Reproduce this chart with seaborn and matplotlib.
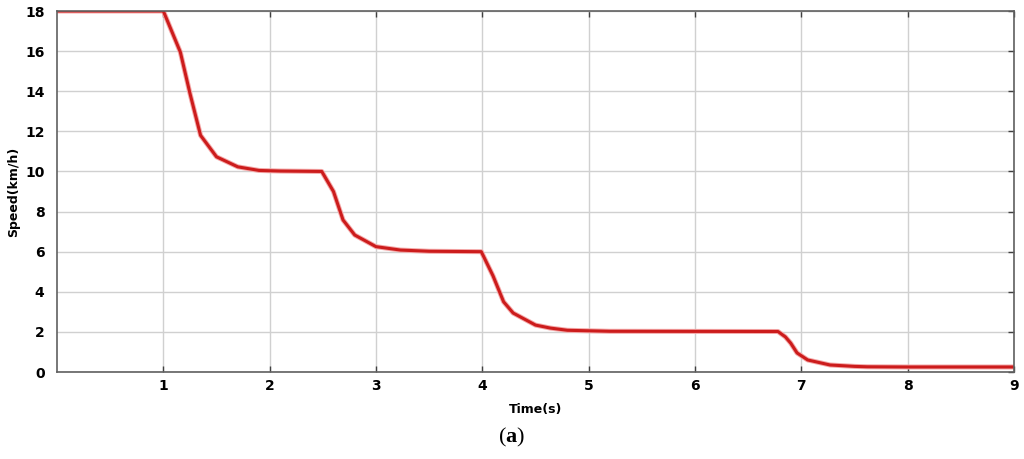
import matplotlib
matplotlib.use("Agg")
import matplotlib.pyplot as plt
import seaborn as sns
import pandas as pd

time_s = [0.0, 1.0, 1.16, 1.25, 1.35, 1.5, 1.7, 1.9, 2.1, 2.49, 2.6, 2.69, 2.8, 3.0, 3.23, 3.5, 3.99,
          4.1, 4.2, 4.29, 4.5, 4.64, 4.8, 5.2, 6.78, 6.85, 6.9, 6.96, 7.06, 7.27, 7.5, 7.62, 8.0, 9.0]
speed_kmh = [18.0, 18.0, 15.95, 13.9, 11.8, 10.73, 10.23, 10.05, 10.02, 10.0, 9.0, 7.58, 6.83, 6.25, 6.08, 6.02, 6.0,
             4.8, 3.5, 2.94, 2.34, 2.19, 2.08, 2.03, 2.02, 1.75, 1.44, 0.95, 0.6, 0.35, 0.28, 0.26, 0.25, 0.25]
x_ticks = [1, 2, 3, 4, 5, 6, 7, 8, 9]
y_ticks = [0, 2, 4, 6, 8, 10, 12, 14, 16, 18]

df = pd.DataFrame({"Time(s)": time_s, "Speed(km/h)": speed_kmh})

sns.set_style("whitegrid")
plt.rcParams["font.family"] = ["DejaVu Sans"]
plt.rcParams["mathtext.fontset"] = "custom"
plt.rcParams["mathtext.rm"] = "Liberation Serif"
plt.rcParams["mathtext.bf"] = "Liberation Serif:bold"

fig = plt.figure(figsize=(10.24, 4.59), dpi=100)
ax = fig.add_axes([57/1024, 1-372/459, (1014-57)/1024, (372-11)/459])

# halo
sns.lineplot(data=df, x="Time(s)", y="Speed(km/h)", ax=ax, color="#f4a8a8", linewidth=3.6, sort=False)
sns.lineplot(data=df, x="Time(s)", y="Speed(km/h)", ax=ax, color="#cc1c1c", linewidth=2.2, sort=False)

ax.set_xlim(0, 9)
ax.set_ylim(0, 18)
ax.set_xticks(x_ticks)
ax.set_yticks(y_ticks)
ax.grid(True, color="#d0d0d0", linewidth=1.0)
for s in ax.spines.values():
    s.set_color("#606060")
    s.set_linewidth(1.2)
    s.set_visible(True)
ax.tick_params(axis="both", direction="in", length=4, width=1, color="#404040",
               labelsize=10, labelcolor="black", top=True, right=True, bottom=True, left=False)
ax.tick_params(axis="x", pad=5)
ax.tick_params(axis="y", pad=9)
for lbl in ax.get_xticklabels() + ax.get_yticklabels():
    lbl.set_fontweight("bold")
ax.set_xlabel("Time(s)", fontsize=9, fontweight="bold", color="black")
ax.set_ylabel("Speed(km/h)", fontsize=9, fontweight="bold", color="black")
ax.xaxis.set_label_coords(0.5, -(409-372)/361, transform=ax.transAxes)
ax.xaxis.label.set_va("center")
ax.yaxis.set_label_coords(-(57-14)/957, 0.5, transform=ax.transAxes)
ax.yaxis.label.set_va("center")

fig.text(0.5, 1-437/459, r"$\mathrm{(}\mathbf{a}\mathrm{)}$", ha="center", va="center", fontsize=16, color="black")

fig.savefig("out.png", dpi=100)
